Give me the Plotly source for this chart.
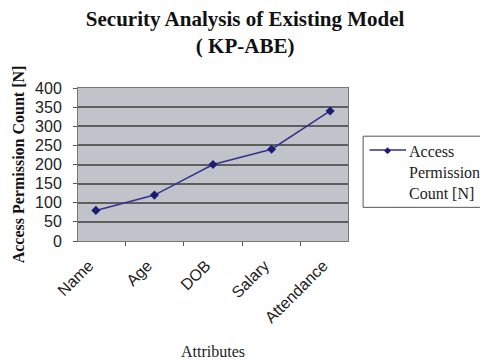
import plotly.graph_objects as go

categories = ["Name", "Age", "DOB", "Salary", "Attendance"]
values = [80, 120, 200, 240, 340]
y_ticks = [0, 50, 100, 150, 200, 250, 300, 350, 400]
series_name = "Access<br>Permission<br>Count [N]"

LINE_COLOR = "#33338a"
MARKER_COLOR = "#1c1c74"

fig = go.Figure()
fig.add_trace(go.Scatter(
    x=categories, y=values, mode="lines+markers", name=series_name,
    line=dict(color=LINE_COLOR, width=1.5),
    marker=dict(symbol="diamond", size=7, color=MARKER_COLOR),
    showlegend=False,
))

# Manual legend (left-aligned multi-line text)
fig.add_shape(type="rect", xref="paper", yref="paper",
              x0=1.056, x1=1.54, y0=0.22, y1=0.685,
              line=dict(color="#555", width=1), fillcolor="white")
fig.add_shape(type="line", xref="paper", yref="paper",
              x0=1.08, x1=1.215, y0=0.595, y1=0.595,
              line=dict(color=LINE_COLOR, width=1.5))
fig.add_annotation(xref="paper", yref="paper", x=1.147, y=0.595,
                   text="◆", showarrow=False, xanchor="center", yanchor="middle",
                   font=dict(size=9, color=MARKER_COLOR))
fig.add_annotation(xref="paper", yref="paper", x=1.22, y=0.45,
                   text=series_name, showarrow=False, align="left",
                   xanchor="left", yanchor="middle",
                   font=dict(family="Liberation Serif", size=16, color="#222"))

# page body adds an 8px offset, so the figure is 480x352
fig.update_layout(
    width=480, height=352,
    margin=dict(l=70, r=140, t=80, b=119),
    paper_bgcolor="white",
    plot_bgcolor="#c0c3c9",
    title=dict(
        text="<b>Security Analysis of Existing Model</b><br><b>( KP-ABE)</b>",
        font=dict(family="Liberation Serif", size=21, color="#111"),
        x=0.494, xanchor="center", xref="container", y=0.95, yanchor="top",
    ),
    showlegend=False,
    xaxis=dict(
        type="category", automargin=False,
        tickangle=-45,
        ticks="outside", tickson="boundaries", ticklen=4, tickcolor="#555",
        ticklabelstandoff=8, ticklabelshift=-7,
        showline=True, linecolor="#777", linewidth=1, mirror=True,
        showgrid=False,
        tickfont=dict(family="Liberation Sans", size=16, color="#222"),
        title=dict(text="Attributes", standoff=24,
                   font=dict(family="Liberation Serif", size=16, color="#222")),
    ),
    yaxis=dict(
        range=[0, 400], automargin=False,
        tickvals=y_ticks,
        ticks="outside", ticklen=4, tickcolor="#555",
        ticklabelstandoff=8,
        showline=True, linecolor="#777", linewidth=1, mirror=True,
        gridcolor="#5e5e5e", gridwidth=1.5,
        zeroline=False,
        tickfont=dict(family="Liberation Sans", size=16, color="#222"),
        title=dict(text="<b>Access Permission Count [N]</b>", standoff=6,
                   font=dict(family="Liberation Serif", size=16, color="#111")),
    ),
)

fig.write_html("out.html")
